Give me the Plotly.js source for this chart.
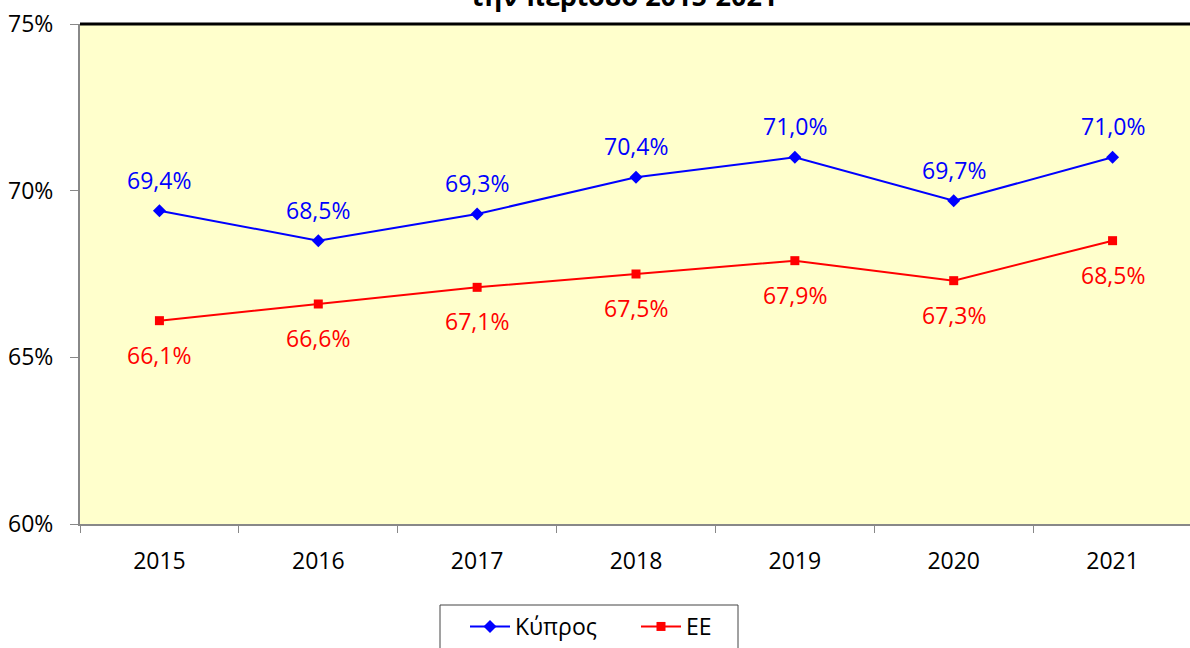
<!DOCTYPE html>
<html>
<head>
<meta charset="utf-8">
<script src="https://cdn.plot.ly/plotly-3.0.1.min.js"></script>
<style>html,body{margin:0;padding:0;overflow:hidden;background:#fff;}</style>
</head>
<body>
<div id="chart"></div>
<script>
const years = ['2015','2016','2017','2018','2019','2020','2021'];
const cyprus = [69.4, 68.5, 69.3, 70.4, 71.0, 69.7, 71.0];
const eu = [66.1, 66.6, 67.1, 67.5, 67.9, 67.3, 68.5];
const yTicks = [60, 65, 70, 75];
const yTickText = ['60%', '65%', '70%', '75%'];
const titleText = 'την περίοδο 2015-2021';

const FONT = 'Open Sans, Noto Sans, sans-serif';
const FS = 23;
const fmt = v => v.toFixed(1).replace('.', ',') + '%';

const traces = [
  {x: years, y: cyprus, name: 'Κύπρος', type: 'scatter', mode: 'lines+markers',
   line: {color: '#0000FF', width: 2}, marker: {symbol: 'diamond', size: 10, color: '#0000FF'}},
  {x: years, y: eu, name: 'ΕΕ', type: 'scatter', mode: 'lines+markers',
   line: {color: '#FF0000', width: 2}, marker: {symbol: 'square', size: 9, color: '#FF0000'}}
];

const annotations = [];
years.forEach((yr, i) => {
  annotations.push({x: i, y: cyprus[i], xref: 'x', yref: 'y', text: fmt(cyprus[i]), showarrow: false,
    yshift: 31, font: {family: FONT, size: FS, color: '#0000FF'}});
  annotations.push({x: i, y: eu[i], xref: 'x', yref: 'y', text: fmt(eu[i]), showarrow: false,
    yshift: -34, font: {family: FONT, size: FS, color: '#FF0000'}});
});
annotations.push({x: (623-80)/1112, y: 1.017, xref: 'paper', yref: 'paper', xanchor: 'center', yanchor: 'bottom',
  text: '<b>' + titleText + '</b>', showarrow: false, font: {family: FONT, size: 27, color: '#000'}});

const layout = {
  width: 1192, height: 648,
  margin: {l: 80, r: 0, t: 24, b: 124},
  paper_bgcolor: '#FFFFFF', plot_bgcolor: '#FFFFCC',
  font: {family: FONT, size: FS, color: '#000'},
  showlegend: true,
  legend: {orientation: 'h', x: (465-80)/1112, xanchor: 'left', y: -0.162, yanchor: 'top',
    borderwidth: 0, font: {family: FONT, size: FS, color: '#000'}, bgcolor: 'rgba(0,0,0,0)',
    entrywidth: 116, entrywidthmode: 'pixels', itemwidth: 40},
  xaxis: {type: 'category', range: [-0.5, 6.5], showgrid: false, zeroline: false,
    showline: true, linecolor: '#888', linewidth: 2, ticks: 'outside', tickson: 'boundaries',
    ticklen: 7, tickcolor: '#888', tickwidth: 1, ticklabelstandoff: 15,
    tickfont: {family: FONT, size: FS, color: '#000'}},
  yaxis: {range: [60, 75], tickvals: yTicks, ticktext: yTickText, showgrid: false, zeroline: false,
    showline: true, linecolor: '#888', linewidth: 2, ticks: 'outside', ticklen: 8, tickcolor: '#888',
    tickwidth: 1, ticklabelstandoff: 12, tickfont: {family: FONT, size: FS, color: '#000'}},
  shapes: [
    {type: 'line', xref: 'paper', yref: 'paper', x0: 0, x1: 1, y0: 1, y1: 1,
     line: {color: '#000', width: 3}},
    {type: 'rect', xref: 'paper', yref: 'paper', x0: (440-80)/1112, x1: (738-80)/1112,
     y0: -0.162, y1: -0.26, line: {color: '#444', width: 1}, fillcolor: 'rgba(0,0,0,0)'}
  ],
  annotations: annotations
};

Plotly.newPlot('chart', traces, layout, {displayModeBar: false, staticPlot: true});
</script>
</body>
</html>
